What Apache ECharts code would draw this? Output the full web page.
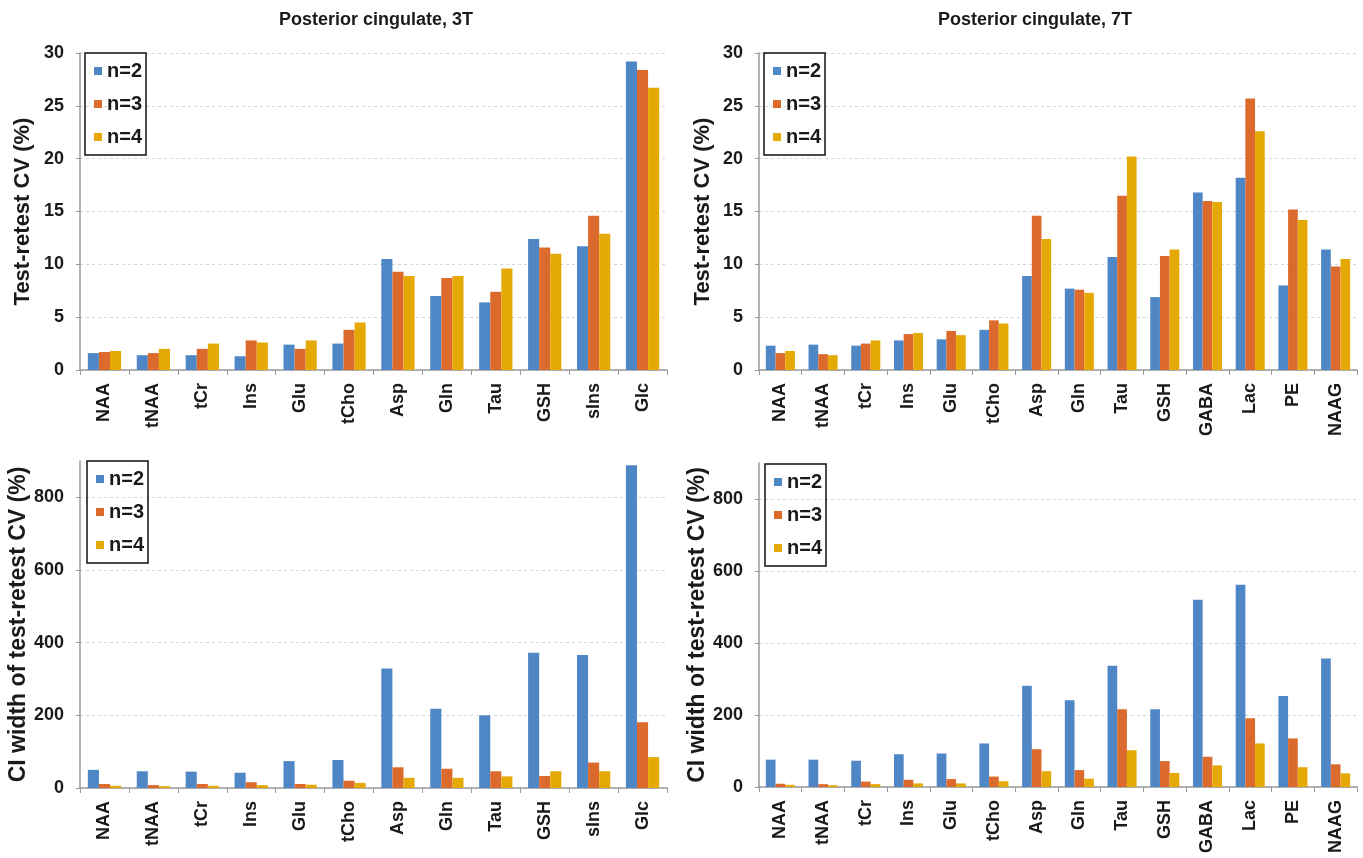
<!DOCTYPE html>
<html>
<head>
<meta charset="utf-8">
<script src="https://cdn.jsdelivr.net/npm/echarts@6/dist/echarts.min.js"></script>
<style>
  html, body { margin: 0; padding: 0; background: #fff; }
  #chart { width: 1363px; height: 858px; }
</style>
</head>
<body>
<div id="chart"></div>
<script>
// categories
const cats3T = ['NAA', 'tNAA', 'tCr', 'Ins', 'Glu', 'tCho', 'Asp', 'Gln', 'Tau', 'GSH', 'sIns', 'Glc']
const cats7T = ['NAA', 'tNAA', 'tCr', 'Ins', 'Glu', 'tCho', 'Asp', 'Gln', 'Tau', 'GSH', 'GABA', 'Lac', 'PE', 'NAAG']
const seriesNames = ['n=2', 'n=3', 'n=4']

// test-retest CV (%), 3T
const cv3T_n2 = [1.6, 1.4, 1.4, 1.3, 2.4, 2.5, 10.5, 7.0, 6.4, 12.4, 11.7, 29.2]
const cv3T_n3 = [1.7, 1.6, 2.0, 2.8, 2.0, 3.8, 9.3, 8.7, 7.4, 11.6, 14.6, 28.4]
const cv3T_n4 = [1.8, 2.0, 2.5, 2.6, 2.8, 4.5, 8.9, 8.9, 9.6, 11.0, 12.9, 26.7]

// test-retest CV (%), 7T
const cv7T_n2 = [2.3, 2.4, 2.3, 2.8, 2.9, 3.8, 8.9, 7.7, 10.7, 6.9, 16.8, 18.2, 8.0, 11.4]
const cv7T_n3 = [1.6, 1.5, 2.5, 3.4, 3.7, 4.7, 14.6, 7.6, 16.5, 10.8, 16.0, 25.7, 15.2, 9.8]
const cv7T_n4 = [1.8, 1.4, 2.8, 3.5, 3.3, 4.4, 12.4, 7.3, 20.2, 11.4, 15.9, 22.6, 14.2, 10.5]

// CI width of test-retest CV (%), 3T
const ci3T_n2 = [50, 46, 45, 42, 74, 77, 329, 218, 200, 372, 366, 888]
const ci3T_n3 = [11, 8, 11, 16, 11, 20, 57, 53, 46, 33, 70, 181]
const ci3T_n4 = [6, 5, 6, 8, 9, 14, 28, 28, 32, 46, 46, 85]

// CI width of test-retest CV (%), 7T
const ci7T_n2 = [76, 76, 73, 91, 93, 121, 281, 241, 337, 216, 520, 562, 253, 357]
const ci7T_n3 = [9, 8, 15, 20, 22, 29, 105, 47, 216, 72, 84, 191, 135, 63]
const ci7T_n4 = [6, 5, 8, 10, 10, 16, 44, 23, 102, 39, 60, 121, 55, 38]

const colors = ['#4f86c6', '#dc6a2c', '#e5a906']
const font = '"Liberation Sans", Arial, sans-serif'
const textColor = '#1a1a1a'

const chart = echarts.init(document.getElementById('chart'))

const grids = [
  { left: 80, top: 53, width: 587, height: 317 },
  { left: 759, top: 53, width: 598, height: 317 },
  { left: 80, top: 461, width: 587, height: 327 },
  { left: 759, top: 463, width: 598, height: 324 }
]

function xAxisFor(i, cats) {
  return {
    type: 'category',
    gridIndex: i,
    data: cats,
    axisLine: { lineStyle: { color: '#9a9a9a', width: 1.5 } },
    axisTick: { show: true, length: 5, lineStyle: { color: '#9a9a9a' } },
    axisLabel: {
      rotate: 90,
      color: textColor,
      fontFamily: font,
      fontWeight: 'bold',
      fontSize: 18,
      margin: 13
    }
  }
}

function yAxisFor(i, name, nameSize, max, interval, gap, gridColors) {
  return {
    type: 'value',
    gridIndex: i,
    min: 0,
    max: max,
    interval: interval,
    name: name,
    nameLocation: 'middle',
    nameGap: gap,
    nameTextStyle: { color: textColor, fontFamily: font, fontWeight: 'bold', fontSize: nameSize },
    axisLine: { show: true, lineStyle: { color: '#9a9a9a', width: 1.5 } },
    axisTick: { show: true, length: 4, lineStyle: { color: '#9a9a9a' } },
    axisLabel: {
      color: textColor,
      fontFamily: font,
      fontWeight: 'bold',
      fontSize: 18,
      margin: 16,
      showMaxLabel: max % interval === 0
    },
    splitLine: { lineStyle: { color: gridColors, type: [3, 3], width: 1 } }
  }
}

function barsFor(i, lists) {
  return lists.map((vals, k) => ({
    name: seriesNames[k],
    type: 'bar',
    xAxisIndex: i,
    yAxisIndex: i,
    data: vals,
    barGap: '0%',
    barCategoryGap: '32%',
    itemStyle: { color: colors[k] },
    animation: false
  }))
}

function legendFor(left, top) {
  return {
    data: seriesNames,
    orient: 'vertical',
    left: left,
    top: top,
    itemWidth: 8,
    itemHeight: 8,
    itemGap: 13,
    padding: [8, 4, 8, 9],
    borderColor: '#111',
    borderWidth: 1.5,
    icon: 'rect',
    selectedMode: false,
    textStyle: { color: textColor, fontFamily: font, fontWeight: 'bold', fontSize: 20, padding: [0, 0, 0, 0] }
  }
}

const g = '#d4d4d4'
const gTop = [g, g, g, g, g, 'rgba(0,0,0,0)']

chart.setOption({
  animation: false,
  title: [
    {
      text: 'Posterior cingulate, 3T',
      left: 371, top: 6, textAlign: 'center',
      textStyle: { color: textColor, fontFamily: font, fontWeight: 'bold', fontSize: 18 }
    },
    {
      text: 'Posterior cingulate, 7T',
      left: 1030, top: 6, textAlign: 'center',
      textStyle: { color: textColor, fontFamily: font, fontWeight: 'bold', fontSize: 18 }
    }
  ],
  legend: [
    legendFor(85, 53),
    legendFor(764, 53),
    legendFor(87, 461),
    legendFor(765, 464)
  ],
  grid: grids,
  xAxis: [
    xAxisFor(0, cats3T),
    xAxisFor(1, cats7T),
    xAxisFor(2, cats3T),
    xAxisFor(3, cats7T)
  ],
  yAxis: [
    yAxisFor(0, 'Test-retest CV (%)', 22, 30, 5, 46, g),
    yAxisFor(1, 'Test-retest CV (%)', 22, 30, 5, 45, g),
    yAxisFor(2, 'CI width of test-retest CV (%)', 23, 900, 200, 50, gTop),
    yAxisFor(3, 'CI width of test-retest CV (%)', 23, 900, 200, 50, gTop)
  ],
  series: [
    ...barsFor(0, [cv3T_n2, cv3T_n3, cv3T_n4]),
    ...barsFor(1, [cv7T_n2, cv7T_n3, cv7T_n4]),
    ...barsFor(2, [ci3T_n2, ci3T_n3, ci3T_n4]),
    ...barsFor(3, [ci7T_n2, ci7T_n3, ci7T_n4])
  ]
})
</script>
</body>
</html>
